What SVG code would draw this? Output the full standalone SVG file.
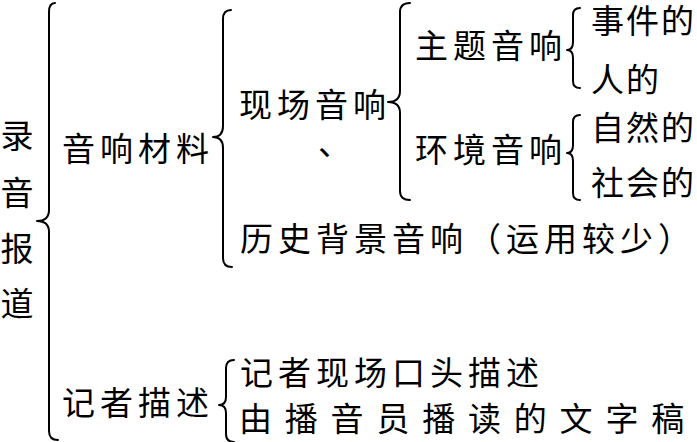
<svg xmlns="http://www.w3.org/2000/svg" width="697" height="442" viewBox="0 0 697 442">
<style>
  text { font-family: "Noto Sans CJK SC", "Noto Sans CJK JP", sans-serif; font-size: 33px; fill: #000; letter-spacing: 5px; }
  .leaf { letter-spacing: 2px; }
  .brace { fill: none; stroke: #000; stroke-width: 2; stroke-linecap: round; stroke-linejoin: round; }
</style>
<rect x="0" y="0" width="697" height="442" fill="#fff"/>
<g id="connectors">
  <path class="brace" d="M55,3 Q49,3 49,12 L49,210 Q49,221 37,221 Q49,221 49,232 L49,431 Q49,440 58,440"/>
  <path class="brace" d="M231,10 Q223,10 223,19 L223,126 Q223,137 213,137 Q223,137 223,148 L223,258 Q223,267 232,267"/>
  <path class="brace" d="M410,3 Q400,3 400,12 L400,91 Q400,102 388,102 Q400,102 400,113 L400,191 Q400,200 410,200"/>
  <path class="brace" d="M580,8 Q573,8 573,15 L573,42 Q573,50 567,50 Q573,50 573,58 L573,81 Q573,88 580,88"/>
  <path class="brace" d="M580,115 Q573,115 573,122 L573,145 Q573,153 567,153 Q573,153 573,161 L573,193 Q573,200 580,200"/>
  <path class="brace" d="M234,360 Q226,360 226,368 L226,397 Q226,405 219,405 Q226,405 226,413 L226,434 Q226,442 234,442"/>
</g>
<g id="root">
  <text x="17" y="147.5" text-anchor="middle" style="letter-spacing:0">录</text>
  <text x="17" y="204.5" text-anchor="middle" style="letter-spacing:0">音</text>
  <text x="17" y="260.5" text-anchor="middle" style="letter-spacing:0">报</text>
  <text x="17" y="315.5" text-anchor="middle" style="letter-spacing:0">道</text>
</g>
<g id="n-yinxiang"><text x="62" y="160.5">音响材料</text></g>
<g id="n-xianchang"><text x="239" y="116.5">现场音响</text><text x="318" y="155">、</text></g>
<g id="n-zhuti"><text x="415" y="57.5">主题音响</text></g>
<g id="n-shijian"><text class="leaf" x="591" y="33">事件的</text></g>
<g id="n-ren"><text class="leaf" x="591" y="91.5">人的</text></g>
<g id="n-huanjing"><text x="415" y="161.5">环境音响</text></g>
<g id="n-ziran"><text class="leaf" x="591" y="139.5">自然的</text></g>
<g id="n-shehui"><text class="leaf" x="591" y="194.5">社会的</text></g>
<g id="n-lishi"><text x="240" y="250.5">历史背景音响（运用较少）</text></g>
<g id="n-jizhe"><text x="62" y="414.5">记者描述</text></g>
<g id="n-koutou"><text x="240" y="384.5">记者现场口头描述</text></g>
<g id="n-bodu"><text x="239" y="431" style="letter-spacing:12.8px">由播音员播读的文字稿</text></g>
</svg>
